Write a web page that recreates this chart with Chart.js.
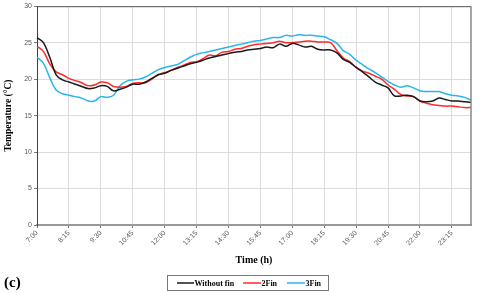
<!DOCTYPE html>
<html>
<head>
<meta charset="utf-8">
<script src="https://cdn.jsdelivr.net/npm/chart.js@4"></script>
<style>
  html, body { margin: 0; padding: 0; background: #fff; }
  #wrap { width: 480px; height: 293px; }
</style>
</head>
<body>
<div id="wrap"><canvas id="grafico"></canvas></div>
<script>
// horas cada 15 min, de 7:00 a 24:00
const horas = [];
for (let m = 7 * 60; m <= 24 * 60; m += 15) {
    horas.push(Math.floor(m / 60) + ':' + String(m % 60).padStart(2, '0'));
}

const sinAleta = [25.7, 25.0, 23.0, 20.6, 19.9, 19.6, 19.3, 19.0, 18.7, 18.8,
    19.1, 19.0, 18.4, 18.6, 18.9, 19.3, 19.3, 19.6, 20.1, 20.6,
    20.8, 21.2, 21.5, 21.8, 22.1, 22.3, 22.6, 22.9, 23.1, 23.3,
    23.5, 23.7, 23.8, 24.0, 24.1, 24.2, 24.4, 24.3, 24.8, 24.5,
    24.9, 24.7, 24.4, 24.5, 24.1, 24.0, 24.0, 23.6, 22.7, 22.3,
    21.6, 21.0, 20.3, 19.6, 19.2, 18.8, 17.7, 17.7, 17.8, 17.6,
    17.0, 16.9, 17.0, 17.4, 17.2, 17.0, 17.0, 16.9, 16.8];

const dosAletas = [24.5, 23.8, 22.1, 21.0, 20.6, 20.1, 19.8, 19.5, 19.1, 19.2,
    19.6, 19.5, 19.0, 18.9, 19.0, 19.4, 19.5, 19.5, 20.0, 20.6,
    20.9, 21.2, 21.6, 21.9, 22.3, 22.4, 22.8, 23.3, 23.2, 23.7,
    23.8, 24.1, 24.2, 24.5, 24.7, 24.8, 24.9, 25.0, 25.2, 25.0,
    25.0, 25.1, 25.2, 25.2, 25.1, 25.1, 25.0, 23.9, 22.9, 22.4,
    21.6, 21.1, 20.8, 20.4, 20.0, 19.2, 18.6, 17.9, 17.7, 17.6,
    17.0, 16.7, 16.5, 16.4, 16.3, 16.3, 16.2, 16.1, 16.1];

const tresAletas = [23.0, 22.2, 20.2, 18.5, 18.0, 17.8, 17.6, 17.4, 17.0, 17.0,
    17.6, 17.5, 17.8, 19.1, 19.7, 19.9, 20.0, 20.3, 20.8, 21.3,
    21.6, 21.8, 22.0, 22.5, 23.0, 23.4, 23.6, 23.8, 24.0, 24.2,
    24.4, 24.6, 24.8, 25.0, 25.2, 25.3, 25.5, 25.7, 25.7, 26.0,
    25.9, 26.1, 26.0, 26.0, 25.9, 25.8, 25.4, 24.9, 23.9, 23.4,
    22.6, 22.0, 21.4, 20.9, 20.3, 19.7, 19.2, 18.9, 19.1, 18.8,
    18.4, 18.3, 18.3, 18.3, 18.0, 17.8, 17.7, 17.5, 17.1];

const cada = 5; // etiqueta cada 75 min
const serif = "'Liberation Serif', 'DejaVu Serif', serif";
const sans = "'Liberation Sans', Arial, sans-serif";

// marco, leyenda y "(c)"
const extras = {
    id: 'extras',
    afterDraw(chart) {
        const ctx = chart.ctx;
        const a = chart.chartArea;
        ctx.save();
        ctx.strokeStyle = '#555';
        ctx.lineWidth = 1;
        ctx.beginPath();
        ctx.moveTo(a.left, a.top + 0.5);
        ctx.lineTo(a.right, a.top + 0.5);
        ctx.stroke();
        ctx.strokeStyle = '#888';
        ctx.lineWidth = 1.5;
        ctx.beginPath();
        ctx.moveTo(a.right, a.top);
        ctx.lineTo(a.right, a.bottom);
        ctx.stroke();

        // leyenda
        ctx.strokeStyle = '#777';
        ctx.lineWidth = 1;
        ctx.strokeRect(167.5, 275.5, 161, 15);
        ctx.font = 'bold 8px ' + serif;
        ctx.textBaseline = 'middle';
        ctx.fillStyle = '#000';
        const items = [[177, 194], [243, 261], [287, 305]];
        chart.data.datasets.forEach((ds, i) => {
            const [x0, x1] = items[i];
            ctx.strokeStyle = ds.borderColor;
            ctx.lineWidth = 1.5;
            ctx.beginPath();
            ctx.moveTo(x0, 283);
            ctx.lineTo(x1, 283);
            ctx.stroke();
            ctx.fillText(ds.label, x1 + 0.5, 283.5);
        });

        ctx.font = 'bold 15px ' + serif;
        ctx.textBaseline = 'alphabetic';
        ctx.fillText('(c)', 4, 287);
        ctx.restore();
    }
};

const data = {
    labels: horas,
    datasets: [
        {
            label: 'Without fin',
            data: sinAleta,
            borderColor: '#1a1a1a',
            backgroundColor: '#1a1a1a',
        },
        {
            label: '2Fin',
            data: dosAletas,
            borderColor: '#ff2a2a',
            backgroundColor: '#ff2a2a',
        },
        {
            label: '3Fin',
            data: tresAletas,
            borderColor: '#2bb5ec',
            backgroundColor: '#2bb5ec',
        }
    ]
};

const config = {
    type: 'line',
    data: data,
    options: {
        responsive: true,
        maintainAspectRatio: false,
        animation: false,
        elements: {
            line: { borderWidth: 1.5, tension: 0.35 },
            point: { radius: 0 }
        },
        layout: {
            padding: { top: 6, right: 9, bottom: 27, left: 3 }
        },
        plugins: {
            legend: { display: false },
            tooltip: { enabled: false }
        },
        scales: {
            x: {
                offset: false,
                afterFit: (s) => { s.height = 41; },
                grid: {
                    color: (c) => c.index % cada === 0 ? '#dcdcdc' : 'rgba(0,0,0,0)',
                    tickColor: (c) => c.index % cada === 0 ? '#777' : 'rgba(0,0,0,0)',
                    tickLength: 3,
                },
                border: { color: '#999', width: 2 },
                ticks: {
                    autoSkip: false,
                    minRotation: 45,
                    maxRotation: 45,
                    padding: 1,
                    color: '#595959',
                    font: { size: 7, family: sans },
                    callback: function (v, i) {
                        return i % cada === 0 ? horas[i] : '';
                    }
                },
                title: {
                    display: true,
                    text: 'Time (h)',
                    color: '#000',
                    font: { size: 10, weight: 'bold', family: serif },
                    padding: 0
                }
            },
            y: {
                min: 0,
                max: 30,
                afterFit: (s) => { s.width = 34; },
                grid: {
                    color: '#dcdcdc',
                    tickColor: '#777',
                    tickLength: 3,
                },
                border: { color: '#404040', width: 1 },
                ticks: {
                    stepSize: 5,
                    padding: 2,
                    color: '#595959',
                    font: { size: 7, family: sans }
                },
                title: {
                    display: true,
                    text: 'Temperature (°C)',
                    color: '#000',
                    font: { size: 9.5, weight: 'bold', family: serif },
                    padding: 0
                }
            }
        }
    },
    plugins: [extras]
};

const miGrafico = new Chart(document.getElementById('grafico'), config);
</script>
</body>
</html>
